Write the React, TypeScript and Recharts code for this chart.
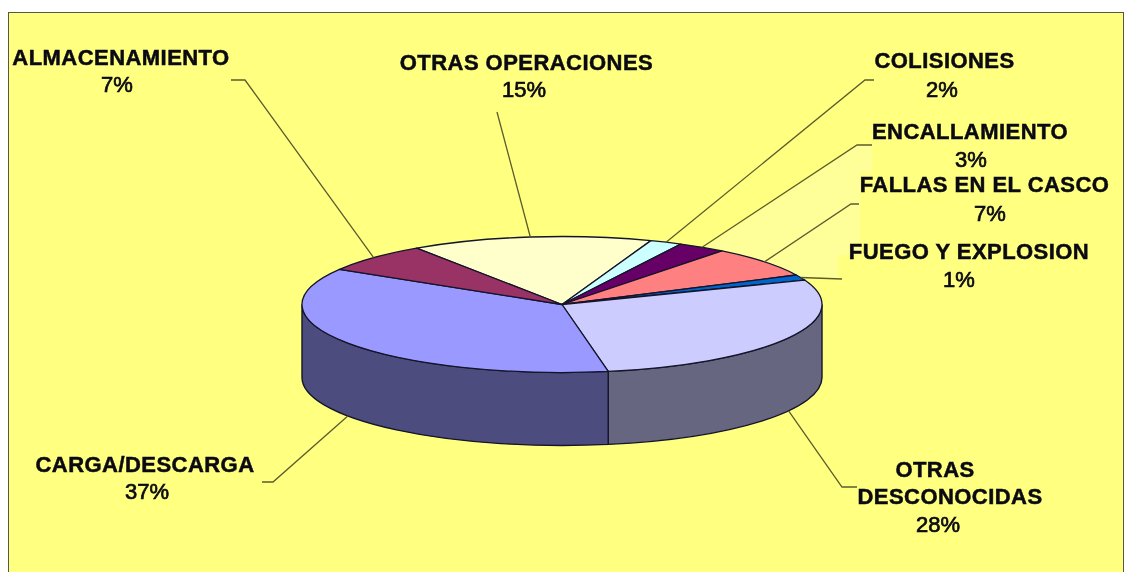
import React from "react";
import { PieChart, Pie, Cell } from "recharts";

const categories = [
  "OTRAS OPERACIONES",
  "COLISIONES",
  "ENCALLAMIENTO",
  "FALLAS EN EL CASCO",
  "FUEGO Y EXPLOSION",
  "OTRAS DESCONOCIDAS",
  "CARGA/DESCARGA",
  "ALMACENAMIENTO",
];
const shares = [15, 2, 3, 7.3, 1.3, 28, 36.5, 6.9];
const topColors = ["#FFFFCC", "#CCFFFF", "#660066", "#FF8080", "#0066CC", "#CCCCFF", "#9999FF", "#993366"];
const wallColors = ["#80806A", "#668080", "#330033", "#804040", "#003366", "#666680", "#4C4C7F", "#4D1A33"];

const W = 1126;
const H = 572;
const CX = 562;
const CY = 304.5;
const RX = 260;
const RY = 68;
const DEPTH = 73;

type Line = { text: string; x: number; y: number; bold: boolean };
const layout: { lines: Line[]; elbow: [number, number][] }[] = [
  {
    lines: [
      { text: "OTRAS OPERACIONES", x: 526.5, y: 70, bold: true },
      { text: "%", x: 524, y: 97, bold: false },
    ],
    elbow: [[497, 112]],
  },
  {
    lines: [
      { text: "COLISIONES", x: 944.5, y: 68, bold: true },
      { text: "%", x: 942, y: 97, bold: false },
    ],
    elbow: [[874, 80], [865, 80]],
  },
  {
    lines: [
      { text: "ENCALLAMIENTO", x: 970, y: 139, bold: true },
      { text: "%", x: 971, y: 167, bold: false },
    ],
    elbow: [[872, 145], [857, 145]],
  },
  {
    lines: [
      { text: "FALLAS EN EL CASCO", x: 984.5, y: 192, bold: true },
      { text: "%", x: 990, y: 221, bold: false },
    ],
    elbow: [[859, 204], [851, 204]],
  },
  {
    lines: [
      { text: "FUEGO Y EXPLOSION", x: 969, y: 259, bold: true },
      { text: "%", x: 959, y: 287, bold: false },
    ],
    elbow: [[842, 279]],
  },
  {
    lines: [
      { text: "OTRAS", x: 935, y: 477, bold: true },
      { text: "DESCONOCIDAS", x: 950, y: 504, bold: true },
      { text: "%", x: 938, y: 532, bold: false },
    ],
    elbow: [[857, 487], [842, 487]],
  },
  {
    lines: [
      { text: "CARGA/DESCARGA", x: 145, y: 472, bold: true },
      { text: "%", x: 147, y: 499, bold: false },
    ],
    elbow: [[262, 482], [273, 482]],
  },
  {
    lines: [
      { text: "ALMACENAMIENTO", x: 121, y: 65, bold: true },
      { text: "%", x: 117, y: 92, bold: false },
    ],
    elbow: [[231, 80], [245, 80]],
  },
];

const tableData = categories.map((name, i) => ({ name, value: shares[i] }));

const rim = (clock: number, rx: number, ry: number, cx: number, cy: number) => {
  const t = (clock * Math.PI) / 180;
  return [cx + rx * Math.sin(t), cy - ry * Math.cos(t)];
};

function EllipseSector(props: any) {
  const { cx, cy, outerRadius, startAngle, endAngle, fill, index } = props;
  const rx = outerRadius;
  const ry = (outerRadius * RY) / RX;
  const t0 = 90 - startAngle;
  const t1 = 90 - endAngle;
  const [sx, sy] = rim(t0, rx, ry, cx, cy);
  const [ex, ey] = rim(t1, rx, ry, cx, cy);
  const large = t1 - t0 > 180 ? 1 : 0;
  const top = `M${cx},${cy} L${sx},${sy} A${rx},${ry} 0 ${large} 1 ${ex},${ey} Z`;
  const w0 = Math.max(t0, 90);
  const w1 = Math.min(t1, 270);
  let wall: string | null = null;
  if (w1 > w0) {
    const [ax, ay] = rim(w0, rx, ry, cx, cy);
    const [bx, by] = rim(w1, rx, ry, cx, cy);
    wall = `M${ax},${ay} A${rx},${ry} 0 0 1 ${bx},${by} L${bx},${by + DEPTH} A${rx},${ry} 0 0 0 ${ax},${ay + DEPTH} Z`;
  }
  const i = index ?? categories.indexOf(props.name);
  return (
    <g>
      {wall && <path d={wall} fill={wallColors[i]} stroke="#14142a" strokeWidth={1.4} />}
      <path d={top} fill={fill} stroke="#14142a" strokeWidth={1.3} strokeLinejoin="round" />
    </g>
  );
}

function SliceLabel(props: any) {
  const { cx, cy, outerRadius, startAngle, endAngle, index } = props;
  const rx = outerRadius;
  const ry = (outerRadius * RY) / RX;
  const mid = 90 - (startAngle + endAngle) / 2;
  const [ax, ayTop] = rim(mid, rx, ry, cx, cy);
  const norm = ((mid % 360) + 360) % 360;
  const ay = norm > 90 && norm < 270 ? ayTop + DEPTH : ayTop;
  const item = layout[index];
  const pts = [...item.elbow, [ax, ay]].map((p) => p.join(",")).join(" ");
  const pct = `${Math.round(shares[index])}%`;
  return (
    <g>
      <polyline points={pts} fill="none" stroke="#5c5c2e" strokeWidth={1.3} />
      {item.lines.map((l, k) => (
        <text
          key={k}
          x={l.x}
          y={l.y}
          textAnchor="middle"
          fontFamily="'Liberation Sans', Arial, sans-serif"
          fontSize={22}
          fontWeight={l.bold ? 700 : 400}
          letterSpacing={l.bold ? 0.45 : 0}
          fill="#0a0a14"
          stroke="#0a0a14"
          strokeWidth={l.bold ? 0.5 : 0.7}
        >
          {l.bold ? l.text : pct}
        </text>
      ))}
    </g>
  );
}

export default function App() {
  return (
    <div
      style={{
        position: "absolute",
        left: 0,
        top: 0,
        width: W,
        height: H,
        overflow: "hidden",
        background: "#fff",
      }}
    >
      <div style={{ position: "absolute", inset: 0, filter: "blur(0.55px)" }}>
        <div
          style={{
            position: "absolute",
            left: 8,
            top: 12,
            width: 1114,
            height: 570,
            background: "#FFFF80",
            borderLeft: "1.5px solid #55554a",
            borderTop: "1.5px solid #55554a",
            borderRight: "1.5px solid #55554a",
          }}
        />
        <svg width={W} height={H} style={{ position: "absolute", left: 0, top: 0 }}>
          <polygon
            points="705,247 857,146 872,146 872,173 860,173 860,255 838,255 838,278 800,278 723,252"
            fill="#FFFF99"
          />
        </svg>
        <div style={{ position: "absolute", left: 0, top: 0 }}>
          <PieChart width={W} height={H} margin={{ top: 0, right: 0, bottom: 0, left: 0 }}>
            <Pie
              data={tableData}
              dataKey="value"
              nameKey="name"
              cx={CX}
              cy={CY}
              innerRadius={0}
              outerRadius={RX}
              startAngle={124}
              endAngle={-236}
              paddingAngle={0}
              stroke="none"
              isAnimationActive={false}
              shape={EllipseSector as any}
              activeShape={EllipseSector as any}
              inactiveShape={EllipseSector as any}
              label={SliceLabel as any}
              labelLine={false}
            >
              {tableData.map((d, i) => (
                <Cell key={d.name} fill={topColors[i]} />
              ))}
            </Pie>
          </PieChart>
        </div>
      </div>
    </div>
  );
}
